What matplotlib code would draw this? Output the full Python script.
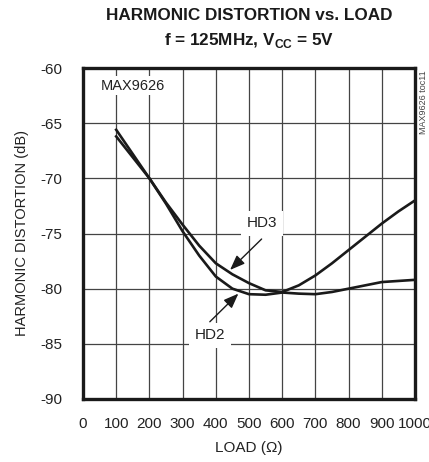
import numpy as np
import matplotlib
matplotlib.use('Agg')
import matplotlib.pyplot as plt

# data: load (ohm) vs distortion (dB)
load = [100, 150, 200, 250, 300, 350, 400, 450, 500, 550, 600, 650,
        700, 750, 800, 850, 900, 950, 1000]
hd2 = [-65.6, -67.8, -70.0, -72.3, -74.8, -77.0, -78.9, -80.0, -80.5,
       -80.55, -80.35, -80.45, -80.5, -80.3, -80.0, -79.7, -79.4, -79.3, -79.2]
hd3 = [-66.2, -68.1, -70.0, -72.2, -74.2, -76.1, -77.7, -78.7, -79.5,
       -80.15, -80.3, -79.7, -78.8, -77.7, -76.5, -75.3, -74.1, -73.0, -72.0]

xticks = [0, 100, 200, 300, 400, 500, 600, 700, 800, 900, 1000]
yticks = [-90, -85, -80, -75, -70, -65, -60]

fam = ['Liberation Sans Narrow', 'Liberation Sans', 'DejaVu Sans']
plt.rcParams['font.family'] = fam
plt.rcParams['axes.unicode_minus'] = False
plt.rcParams['mathtext.fontset'] = 'custom'
plt.rcParams['mathtext.rm'] = 'Liberation Sans'
plt.rcParams['mathtext.bf'] = 'Liberation Sans:bold'

fig = plt.figure(figsize=(4.29, 4.62), dpi=100)
ax = fig.add_axes([83/429, 63/462, 332/429, 331/462])

ax.plot(load, hd2, color='#1a1a1a', lw=1.9, zorder=4)
ax.plot(load, hd3, color='#1a1a1a', lw=1.9, zorder=4)

ax.set_xlim(0, 1000)
ax.set_ylim(-90, -60)
ax.set_xticks(xticks)
ax.set_yticks(yticks)
ax.tick_params(length=0, labelsize=11, colors='#222222')
ax.tick_params(axis='y', pad=15)
ax.tick_params(axis='x', pad=13)
ax.grid(True, color='#444444', lw=0.9, zorder=1)
ax.set_axisbelow(True)
for s in ax.spines.values():
    s.set_linewidth(2.4)
    s.set_color('#1a1a1a')

ax.set_xlabel('LOAD (\u03a9)', fontsize=11, color='#222222', labelpad=7)
ax.set_ylabel('HARMONIC DISTORTION (dB)', fontsize=10.5, color='#222222', labelpad=8)

# titles
fig.text(249/429, 1 - 15/462, 'HARMONIC DISTORTION vs. LOAD', ha='center', va='center',
         fontsize=12.3, fontweight='bold', color='#1a1a1a')
fig.text(249/429, 1 - 41/462, r'f = 125MHz, V$_\mathbf{CC}$ = 5V', ha='center', va='center',
         fontsize=12.3, fontweight='bold', color='#1a1a1a')

# part number inside and side note
ax.text(52, -61.6, 'MAX9626', ha='left', va='center', fontsize=10.5, color='#222222',
        bbox=dict(facecolor='white', edgecolor='none', pad=2), zorder=3)
fig.text(423/429, 1 - 102/462, 'MAX9626 toc11', rotation=90, ha='center', va='center',
         fontsize=6.5, color='#444444')

# curve labels with arrows
arrow = dict(arrowstyle='-|>,head_length=0.9,head_width=0.35', color='#1a1a1a',
             lw=1.0, shrinkA=0, shrinkB=0)
ax.text(539, -74.05, 'HD3', ha='center', va='center', fontsize=11, color='#222222',
        bbox=dict(facecolor='white', edgecolor='none', pad=4), zorder=3)
ax.annotate('', xy=(443, -78.3), xytext=(538, -75.5), arrowprops=arrow, zorder=5)
ax.text(382, -84.2, 'HD2', ha='center', va='center', fontsize=11, color='#222222',
        bbox=dict(facecolor='white', edgecolor='none', pad=4), zorder=3)
ax.annotate('', xy=(468, -80.45), xytext=(382, -83.0), arrowprops=arrow, zorder=5)

fig.savefig('out.png', dpi=100)
